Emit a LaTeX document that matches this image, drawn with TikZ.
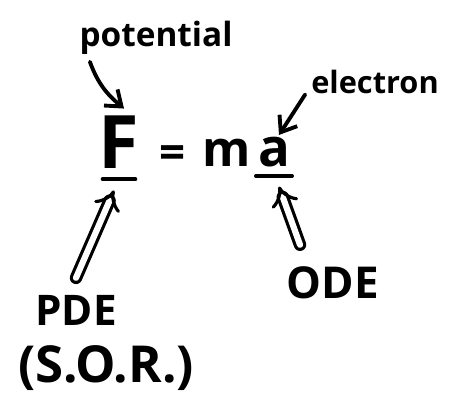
\documentclass[tikz,border=0pt]{standalone}
\usepackage{fontspec}
\setmainfont{Open Sans}
\usetikzlibrary{arrows.meta, positioning}

\begin{document}
\begin{tikzpicture}[x=0.02cm, y=-0.02cm,
	word/.style={inner sep=1pt, text=black, font=\bfseries},
	stroke/.style={line width=2.2pt, line cap=round},
	pointer/.style={stroke, -{Straight Barb[length=8pt, width=12pt]}},
	twoline/.style={double, double distance=3.5pt, line width=1.8pt, line cap=round, -{Implies[length=9pt, width=16pt]}}
	]
	\useasboundingbox (0,0) rectangle (450,406);
	
	% Gleichung
	\node[word, font=\bfseries\fontsize{42}{50}\selectfont] (F) at (119,142) {F};
	\node[word, font=\bfseries\fontsize{26}{32}\selectfont] (eq) at (173,157) {=};
	\node[word, font=\bfseries\fontsize{28}{34}\selectfont] (m) at (227,153) {m};
	\node[word, font=\bfseries\fontsize{30}{36}\selectfont] (a) at (274,152) {a};
	
	% Unterstriche
	\draw[stroke] ([xshift=0.12cm, yshift=-5pt]F.south west) -- ([xshift=-0.12cm, yshift=-5pt]F.south east);
	\draw[stroke] ([yshift=-4pt]a.south west) -- ([yshift=-4pt]a.south east);
	
	% Beschriftungen
	\node[word, font=\bfseries\fontsize{19}{23}\selectfont] (pot) at (156,38) {potential};
	\node[word, font=\bfseries\fontsize{17.5}{21}\selectfont] (el) at (375,82) {electron};
	\node[word, font=\bfseries\fontsize{24}{29}\selectfont] (pde) at (76,310) {PDE};
	\node[word, font=\bfseries\fontsize{29}{35}\selectfont, below=9pt of pde, xshift=0.6cm] (sor) {(S.O.R.)};
	\node[word, font=\bfseries\fontsize{25}{30}\selectfont] (ode) at (333,283) {ODE};
	
	% Pfeile
	\draw[pointer] ([xshift=0.25cm, yshift=-0.1cm]pot.south west) to[out=-70, in=140] ([xshift=0.1cm, yshift=0.1cm]F.north);
	\draw[pointer] ([xshift=-0.08cm, yshift=-0.25cm]el.west) -- ([xshift=0.1cm]a.north);
	\draw[twoline] ([yshift=0.3cm]pde.north) -- ([xshift=-0.1cm, yshift=-0.4cm]F.south);
	\draw[twoline] ([xshift=-0.66cm, yshift=0.4cm]ode.north) -- ([xshift=0.1cm, yshift=-0.35cm]a.south);
	
\end{tikzpicture}
\end{document}
